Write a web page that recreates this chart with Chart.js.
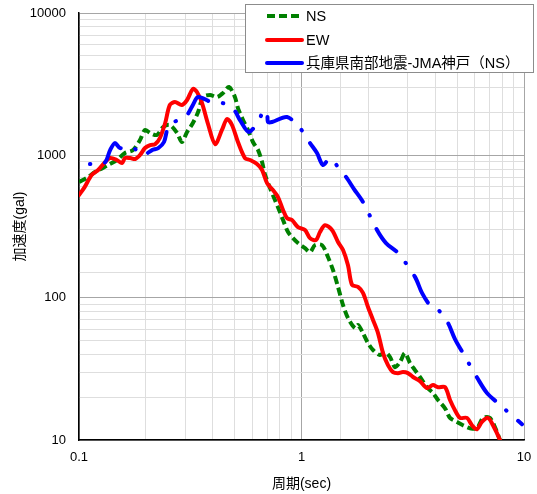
<!DOCTYPE html>
<html>
<head>
<meta charset="utf-8">
<script src="https://cdn.jsdelivr.net/npm/chart.js@4"></script>
<style>
  html, body { margin: 0; padding: 0; background: #fff; }
  canvas { display: block; }
</style>
</head>
<body>
<canvas id="espectro" width="537" height="494"></canvas>
<script>
// NS (green dashed)
const nsPeriod = [0.100, 0.110, 0.118, 0.128, 0.135, 0.148, 0.161, 0.175, 0.188, 0.198, 0.209, 0.224, 0.239, 0.256, 0.276, 0.290, 0.306, 0.325, 0.343, 0.361, 0.388, 0.417, 0.444, 0.472, 0.502, 0.518, 0.546, 0.575, 0.605, 0.638, 0.665, 0.686, 0.722, 0.760, 0.800, 0.826, 0.870, 0.916, 0.964, 1.037, 1.092, 1.150, 1.236, 1.315, 1.386, 1.459, 1.537, 1.618, 1.739, 1.794, 1.889, 1.990, 2.096, 2.254, 2.373, 2.499, 2.631, 2.771, 2.917, 3.072, 3.236, 3.408, 3.664, 3.899, 4.106, 4.416, 4.650, 4.998, 5.318, 5.717, 6.146, 6.540, 7.031, 7.560, 7.798, 8.10];
const nsAccel = [649, 705, 764, 815, 855, 927, 1038, 1089, 1282, 1507, 1435, 1390, 1581, 1633, 1435, 1241, 1459, 1687, 2014, 2570, 2654, 2570, 2742, 3020, 2570, 2149, 1770, 1507, 1241, 1089, 897, 728, 589, 485, 400, 351, 289, 262, 242, 223, 209, 234, 234, 193, 156, 119, 88.7, 71.9, 61.2, 64.3, 56.4, 48.0, 42.9, 39.5, 41.5, 38.3, 32.5, 35.3, 40.8, 34.8, 31.0, 27.7, 23.5, 21.4, 19.1, 16.7, 14.3, 13.4, 12.7, 12.1, 12.1, 14.3, 14.3, 11.4, 10.0, 8.8];

// EW (red solid)
const ewPeriod = [0.100, 0.106, 0.114, 0.122, 0.131, 0.138, 0.148, 0.156, 0.161, 0.170, 0.179, 0.188, 0.198, 0.209, 0.220, 0.231, 0.244, 0.256, 0.270, 0.290, 0.306, 0.325, 0.339, 0.357, 0.380, 0.409, 0.439, 0.463, 0.487, 0.518, 0.557, 0.587, 0.631, 0.665, 0.700, 0.744, 0.784, 0.826, 0.861, 0.906, 0.964, 1.037, 1.092, 1.162, 1.211, 1.275, 1.371, 1.459, 1.537, 1.618, 1.687, 1.794, 1.889, 1.990, 2.096, 2.207, 2.325, 2.447, 2.577, 2.714, 2.858, 3.009, 3.170, 3.408, 3.664, 3.899, 4.106, 4.416, 4.650, 4.895, 5.155, 5.542, 5.836, 6.146, 6.472, 6.887, 7.253, 7.798, 8.13];
const ewAccel = [526, 598, 728, 789, 897, 957, 927, 883, 957, 957, 942, 1005, 1125, 1180, 1199, 1324, 1687, 2259, 2371, 2259, 2448, 2924, 2786, 2333, 1660, 1199, 1507, 1799, 1633, 1241, 957, 927, 869, 789, 638, 570, 509, 413, 362, 351, 313, 299, 262, 254, 289, 323, 299, 246, 216, 169, 123, 119, 108, 85.9, 69.7, 56.4, 40.8, 33.6, 30.0, 29.5, 30.0, 29.5, 27.7, 25.9, 23.2, 24.3, 23.5, 23.5, 19.1, 16.2, 14.3, 14.3, 12.7, 11.9, 13.4, 14.3, 12.7, 10.0, 8.2];

// 兵庫県南部地震-JMA神戸(NS) (blue dash-dot)
const kobePeriod = [0.112, 0.130, 0.138, 0.145, 0.153, 0.173, 0.194, 0.213, 0.227, 0.241, 0.254, 0.287, 0.306, 0.325, 0.343, 0.392, 0.439, 0.467, 0.502, 0.529, 0.581, 0.651, 0.672, 0.700, 0.707, 0.737, 0.861, 0.984, 1.092, 1.174, 1.249, 1.343, 1.459, 1.585, 1.722, 1.889, 2.185, 2.398, 2.714, 3.236, 3.479, 3.779, 4.064, 4.281, 4.555, 4.895, 5.318, 6.209, 6.817, 7.719, 9.795];
const kobeAccel = [869, 883, 1089, 1219, 1125, 1143, 1005, 1089, 1125, 1241, 1633, 1799, 1919, 2259, 2570, 2371, 2333, 2259, 2048, 1770, 1459, 1828, 2081, 1982, 1714, 1714, 1858, 1556, 1219, 1038, 855, 957, 828, 705, 579, 470, 299, 242, 206, 140, 108, 88.7, 84.5, 75.5, 66.4, 51.2, 40.8, 26.8, 21.4, 17.9, 12.9];

const xTickValues = [0.1, 1, 10];
const xTickLabels = ["0.1", "1", "10"];
const yTickValues = [10, 100, 1000, 10000];
const yTickLabels = ["10", "100", "1000", "10000"];

const fuente = "'Liberation Sans', 'Noto Sans CJK JP', sans-serif";

function puntos(xs, ys) {
  return xs.map((x, i) => ({ x: x, y: ys[i] }));
}

function esDecada(v) {
  const l = Math.log10(v);
  return Math.abs(l - Math.round(l)) < 1e-6;
}

function etiqueta(valores, textos) {
  return function (v) {
    const i = valores.findIndex((t) => Math.abs(t - v) / t < 1e-6);
    return i >= 0 ? textos[i] : "";
  };
}

function colorGrid(ctx) {
  return esDecada(ctx.tick.value) ? "#a6a6a6" : "#dedede";
}

// leyenda dibujada encima del área del gráfico (como en Excel)
const leyenda = {
  id: "leyenda",
  afterDraw(chart) {
    const ctx = chart.ctx;
    ctx.save();
    ctx.fillStyle = "#fff";
    ctx.fillRect(245.5, 4.5, 288, 68);
    ctx.strokeStyle = "#8c8c8c";
    ctx.lineWidth = 1;
    ctx.strokeRect(245.5, 4.5, 288, 68);
    const filas = [16, 40, 63];
    const orden = [0, 1, 2];
    orden.forEach((idx, k) => {
      const ds = chart.data.datasets[idx];
      const y = filas[k];
      ctx.strokeStyle = ds.borderColor;
      ctx.lineWidth = ds.borderWidth;
      ctx.lineCap = ds.borderCapStyle || "butt";
      ctx.setLineDash(ds.legendDash || []);
      ctx.beginPath();
      ctx.moveTo(267, y);
      ctx.lineTo(302, y);
      ctx.stroke();
      ctx.setLineDash([]);
      ctx.fillStyle = "#000";
      ctx.font = "14.5px " + fuente;
      ctx.textBaseline = "middle";
      ctx.textAlign = "left";
      ctx.fillText(ds.label, 306, y + 1);
    });
    ctx.restore();
  },
};

new Chart(document.getElementById("espectro"), {
  type: "line",
  data: {
    datasets: [
      {
        label: "NS",
        data: puntos(nsPeriod, nsAccel),
        borderColor: "#008000",
        borderWidth: 4,
        borderDash: [8, 4],
        legendDash: [8, 4],
        pointRadius: 0,
        tension: 0.3,
        order: 2,
      },
      {
        label: "EW",
        data: puntos(ewPeriod, ewAccel),
        borderColor: "#ff0000",
        borderWidth: 4,
        borderCapStyle: "round",
        borderJoinStyle: "round",
        pointRadius: 0,
        tension: 0.3,
        order: 1,
      },
      {
        label: "兵庫県南部地震-JMA神戸（NS）",
        data: puntos(kobePeriod, kobeAccel),
        borderColor: "#0000ff",
        borderWidth: 4,
        borderDash: [30, 15, 0.5, 15],
        borderDashOffset: 45,
        borderCapStyle: "round",
        borderJoinStyle: "round",
        pointRadius: 0,
        tension: 0.3,
        order: 0,
      },
    ],
  },
  options: {
    responsive: false,
    animation: false,
    layout: { padding: { left: 0, right: 13, top: 13, bottom: 0 } },
    plugins: {
      legend: { display: false },
      tooltip: { enabled: false },
    },
    scales: {
      x: {
        type: "logarithmic",
        min: 0.1,
        max: 10,
        afterFit: (scale) => {
          scale.height = 54;
          scale.paddingLeft = 0;
          scale.paddingRight = 0;
        },
        border: { color: "#000", width: 1.5 },
        grid: { color: colorGrid, drawTicks: false },
        ticks: {
          autoSkip: false,
          maxRotation: 0,
          padding: 10,
          color: "#000",
          font: { size: 13, family: fuente },
          callback: etiqueta(xTickValues, xTickLabels),
        },
        title: {
          display: true,
          text: "周期(sec)",
          color: "#000",
          font: { size: 14, family: fuente },
          padding: { top: 0, bottom: 1 },
        },
      },
      y: {
        type: "logarithmic",
        min: 10,
        max: 10000,
        afterFit: (scale) => {
          scale.width = 79;
          scale.paddingTop = 0;
          scale.paddingBottom = 0;
        },
        border: { color: "#000", width: 1.5 },
        grid: { color: colorGrid, drawTicks: false },
        ticks: {
          autoSkip: false,
          padding: 13,
          color: "#000",
          font: { size: 13, family: fuente },
          callback: etiqueta(yTickValues, yTickLabels),
        },
        title: {
          display: true,
          text: "加速度(gal)",
          color: "#000",
          font: { size: 14, family: fuente },
          padding: { top: 12, bottom: 0 },
        },
      },
    },
  },
  plugins: [leyenda],
});
</script>
</body>
</html>
